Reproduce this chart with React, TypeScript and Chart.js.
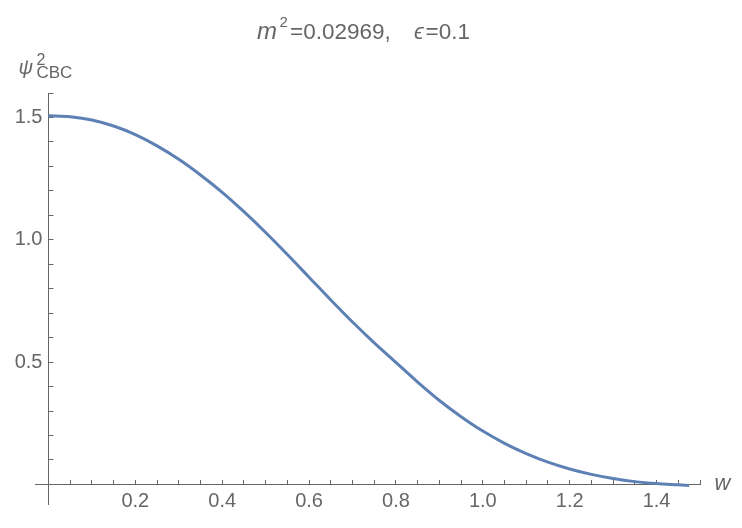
import React, { useEffect, useRef } from "react";
import { Chart, registerables } from "chart.js";

Chart.register(...registerables);

// ---- data ----
const wValues = [0, 0.05, 0.1, 0.15, 0.2, 0.25, 0.3, 0.35, 0.4, 0.45, 0.5, 0.55, 0.6, 0.65, 0.7, 0.75, 0.8, 0.85, 0.9, 0.95, 1.0, 1.05, 1.1, 1.15, 1.2, 1.25, 1.3, 1.35, 1.4, 1.45, 1.475];
const psiValues = [1.507, 1.503, 1.49, 1.465, 1.43, 1.384, 1.329, 1.265, 1.194, 1.115, 1.03, 0.94, 0.847, 0.754, 0.664, 0.579, 0.499, 0.418, 0.343, 0.277, 0.218, 0.168, 0.126, 0.091, 0.063, 0.041, 0.024, 0.0115, 0.0035, -0.0015, -0.004];

const xMajorTicks = [0.2, 0.4, 0.6, 0.8, 1.0, 1.2, 1.4];
const xMajorLabels = ["0.2", "0.4", "0.6", "0.8", "1.0", "1.2", "1.4"];
const xMinorStep = 0.05;
const xTickMax = 1.5;

const yMajorTicks = [0.5, 1.0, 1.5];
const yMajorLabels = ["0.5", "1.0", "1.5"];
const yMinorStep = 0.1;
const yTickMax = 1.6;

const X_MIN = -0.031;
const X_MAX = 1.5;
const Y_MIN = -0.08;
const Y_MAX = 1.6;

const FONT = '"Liberation Sans", Arial, Helvetica, sans-serif';
const GRAY = "#666666";
const LINE_COLOR = "#5E81B5";

function buildTicks(step: number, max: number): number[] {
  const out: number[] = [];
  const n = Math.round(max / step);
  for (let i = 1; i <= n; i++) out.push(Math.round(i * step * 1000) / 1000);
  return out;
}

function labelFor(v: number, majors: number[], labels: string[]): string {
  const idx = majors.findIndex((m) => Math.abs(m - v) < 1e-6);
  return idx >= 0 ? labels[idx] : "";
}

const moveYAxisPlugin = {
  id: "moveYAxis",
  afterLayout(chart: any) {
    const ys = chart.scales.y;
    const px = chart.scales.x.getPixelForValue(0);
    const w = ys.right - ys.left;
    ys.right = px;
    ys.left = px - w;
  },
};

const textPlugin = {
  id: "texts",
  afterDraw(chart: any) {
    const ctx = chart.ctx as CanvasRenderingContext2D;
    ctx.save();
    ctx.fillStyle = GRAY;
    ctx.textBaseline = "alphabetic";
    ctx.textAlign = "left";
    // title
    ctx.font = `italic 24px ${FONT}`;
    ctx.fillText("m", 257, 38.5);
    ctx.font = `15px ${FONT}`;
    ctx.fillText("2", 279.5, 27);
    ctx.font = `22.5px ${FONT}`;
    ctx.fillText("=0.02969,", 290, 38.5);
    ctx.font = `italic 22px ${FONT}`;
    ctx.fillText("\u03F5", 414, 38.5);
    ctx.font = `22.5px ${FONT}`;
    ctx.fillText("=0.1", 425.5, 38.5);
    // y label
    ctx.font = `italic 20px ${FONT}`;
    ctx.fillText("\u03C8", 18.5, 74);
    ctx.font = `16px ${FONT}`;
    ctx.fillText("2", 36.5, 65);
    ctx.font = `17px ${FONT}`;
    ctx.fillText("CBC", 36.5, 77.5);
    // x label
    ctx.font = `italic 22px ${FONT}`;
    ctx.fillText("w", 714.5, 490);
    ctx.restore();
  },
};

export default function App() {
  const ref = useRef<HTMLCanvasElement | null>(null);
  useEffect(() => {
    if (!ref.current) return;
    const xTicks = buildTicks(xMinorStep, xTickMax);
    const yTicks = buildTicks(yMinorStep, yTickMax);
    const chart = new Chart(ref.current, {
      type: "line",
      data: {
        datasets: [
          {
            data: wValues.map((w, i) => ({ x: w, y: psiValues[i] })),
            borderColor: LINE_COLOR,
            borderWidth: 3,
            pointRadius: 0,
            fill: false,
            cubicInterpolationMode: "monotone",
          },
        ],
      },
      options: {
        animation: false,
        responsive: false,
        maintainAspectRatio: false,
        layout: { padding: { top: 93, bottom: 24, left: 0, right: 42 } },
        plugins: {
          legend: { display: false },
          tooltip: { enabled: false },
          title: { display: false },
        },
        scales: {
          x: {
            type: "linear",
            position: { y: 0 } as any,
            min: X_MIN,
            max: X_MAX,
            afterBuildTicks: (s: any) => {
              s.ticks = xTicks.map((v) => ({ value: v }));
            },
            afterFit: (s: any) => {
              s.height = 0;
            },
            grid: {
              display: true,
              drawOnChartArea: false,
              drawTicks: true,
              tickLength: -5,
              tickColor: GRAY,
              tickWidth: 1,
            },
            border: { display: true, color: GRAY, width: 1 },
            ticks: {
              autoSkip: false,
              maxRotation: 0,
              minRotation: 0,
              padding: 10,
              color: GRAY,
              font: { family: FONT, size: 20 },
              callback: (v: any) => labelFor(Number(v), xMajorTicks, xMajorLabels),
            },
          },
          y: {
            type: "linear",
            position: "left",
            min: Y_MIN,
            max: Y_MAX,
            afterBuildTicks: (s: any) => {
              s.ticks = yTicks.map((v) => ({ value: v }));
            },
            afterFit: (s: any) => {
              s.width = 35;
            },
            grid: {
              display: true,
              drawOnChartArea: false,
              drawTicks: true,
              tickLength: -5,
              tickColor: GRAY,
              tickWidth: 1,
            },
            border: { display: true, color: GRAY, width: 1 },
            ticks: {
              autoSkip: false,
              padding: 11,
              color: GRAY,
              font: { family: FONT, size: 20 },
              callback: (v: any) => labelFor(Number(v), yMajorTicks, yMajorLabels),
            },
          },
        },
      } as any,
      plugins: [moveYAxisPlugin, textPlugin],
    });
    return () => chart.destroy();
  }, []);
  return (
    <div style={{ position: "fixed", left: 0, top: 0, width: 742, height: 528, background: "#fff" }}>
      <canvas ref={ref} width={742} height={528} style={{ display: "block" }} />
    </div>
  );
}
